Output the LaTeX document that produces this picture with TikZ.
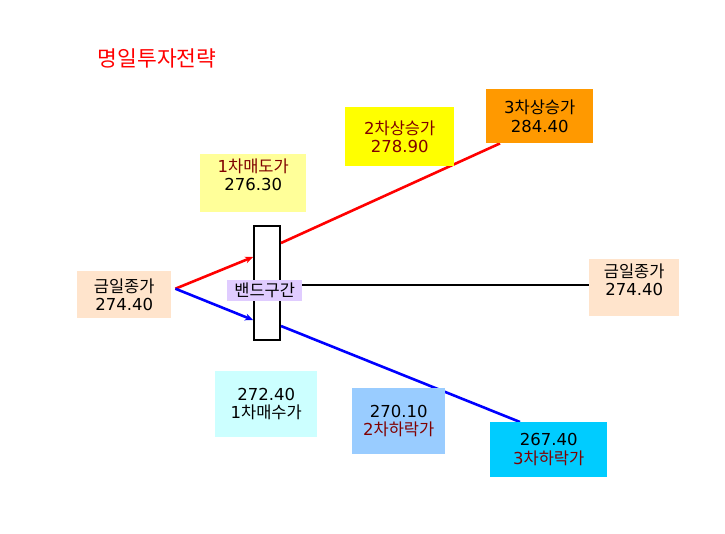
\documentclass[tikz,border=0pt]{standalone}
\usepackage{fontspec}
\setmainfont{Noto Sans CJK KR}
\newfontfamily\digitfont{DejaVu Sans}
\newcommand{\prc}[1]{{\digitfont #1}}
\usetikzlibrary{arrows.meta}

\definecolor{peach}{HTML}{FFE4CC}
\definecolor{paleyellow}{HTML}{FFFF99}
\definecolor{boxyellow}{HTML}{FFFF00}
\definecolor{boxorange}{HTML}{FF9900}
\definecolor{lavender}{HTML}{E0CCFF}
\definecolor{palecyan}{HTML}{CCFFFF}
\definecolor{skyblue}{HTML}{99CCFF}
\definecolor{boxcyan}{HTML}{00CCFF}
\definecolor{darkred}{HTML}{800000}

\begin{document}
\begin{tikzpicture}[x=1pt, y=-1pt,
		pricebox/.style={anchor=north west, inner sep=0pt, align=center,
			font=\fontsize{16.5}{18.5}\selectfont},
		pricetext/.style={inner sep=0pt, align=center,
			font=\fontsize{16.5}{18.5}\selectfont},
		trend/.style={line width=2.6pt}]
			\useasboundingbox (0,0) rectangle (725,533);

			% title
			\node[font=\fontsize{21.5}{24}\selectfont, text=red] (title) at (157,58) {명일투자전략};

			% price boxes
			\node[pricebox, fill=peach, minimum width=94, minimum height=47]
				(close1) at (77,271) {금일종가\\\prc{274.40}};
			\node[pricebox, fill=paleyellow, minimum width=106, minimum height=58]
				(sell1) at (200,154) {};
			\node[pricetext] (sell1 text) at ([yshift=-21pt]sell1.north)
				{\textcolor{darkred}{\prc{1}차매도가}\\\prc{276.30}};
			\node[pricebox, fill=peach, minimum width=90, minimum height=57]
				(close2) at (589,259) {};
			\node[pricetext] (close2 text) at ([yshift=-21pt]close2.north)
				{금일종가\\\prc{274.40}};
			\node[pricebox, fill=palecyan, minimum width=102, minimum height=66]
				(buy1) at (215,371) {\prc{272.40}\\\prc{1}차매수가};

			% band
			\node[anchor=north west, draw, line width=2pt, fill=white, inner sep=0pt,
				minimum width=26, minimum height=114] (band) at (253,225) {};
			\node[pricebox, fill=lavender, minimum width=75, minimum height=21]
				(bandlabel) at (227,280) {밴드구간};

			% arrows into the band
			\draw[trend, red, -{Stealth[length=8pt, width=7pt]}]
				([xshift=4pt, yshift=6pt]close1.east)	--	([yshift=26pt]band.west);
			\draw[trend, blue, -{Stealth[length=8pt, width=7pt]}]
				([xshift=4pt, yshift=6pt]close1.east)	--	([yshift=-37pt]band.west);

			% black line
			\draw[line width=2pt]	([yshift=2.5pt]close2.west -| bandlabel.east)	--	([yshift=2.5pt]close2.west);

			% rising and falling lines (boxes drawn over them)
			\node[pricebox, minimum width=107, minimum height=54]
				(rise3) at (486,89) {\phantom{x}};
			\node[pricebox, minimum width=117, minimum height=55]
				(fall3) at (490,422) {\phantom{x}};
			\draw[trend, red]	([yshift=40pt]band.east)	--	([xshift=14pt]rise3.south west);
			\draw[trend, blue]	([yshift=-43pt]band.east)	--	([xshift=30pt]fall3.north west);

			\node[pricebox, fill=boxyellow, text=darkred, minimum width=109, minimum height=59]
				(rise2) at (345,107) {\prc{2}차상승가\\\prc{278.90}};
			\node[pricebox, fill=boxorange, minimum width=107, minimum height=54]
				at (rise3.north west) {\prc{3}차상승가\\\prc{284.40}};
			\node[pricebox, fill=skyblue, minimum width=93, minimum height=66]
				(fall2) at (352,388) {\prc{270.10}\\\textcolor{darkred}{\prc{2}차하락가}};
			\node[pricebox, fill=boxcyan, minimum width=117, minimum height=55]
				at (fall3.north west) {\prc{267.40}\\\textcolor{darkred}{\prc{3}차하락가}};
		\end{tikzpicture}
\end{document}
